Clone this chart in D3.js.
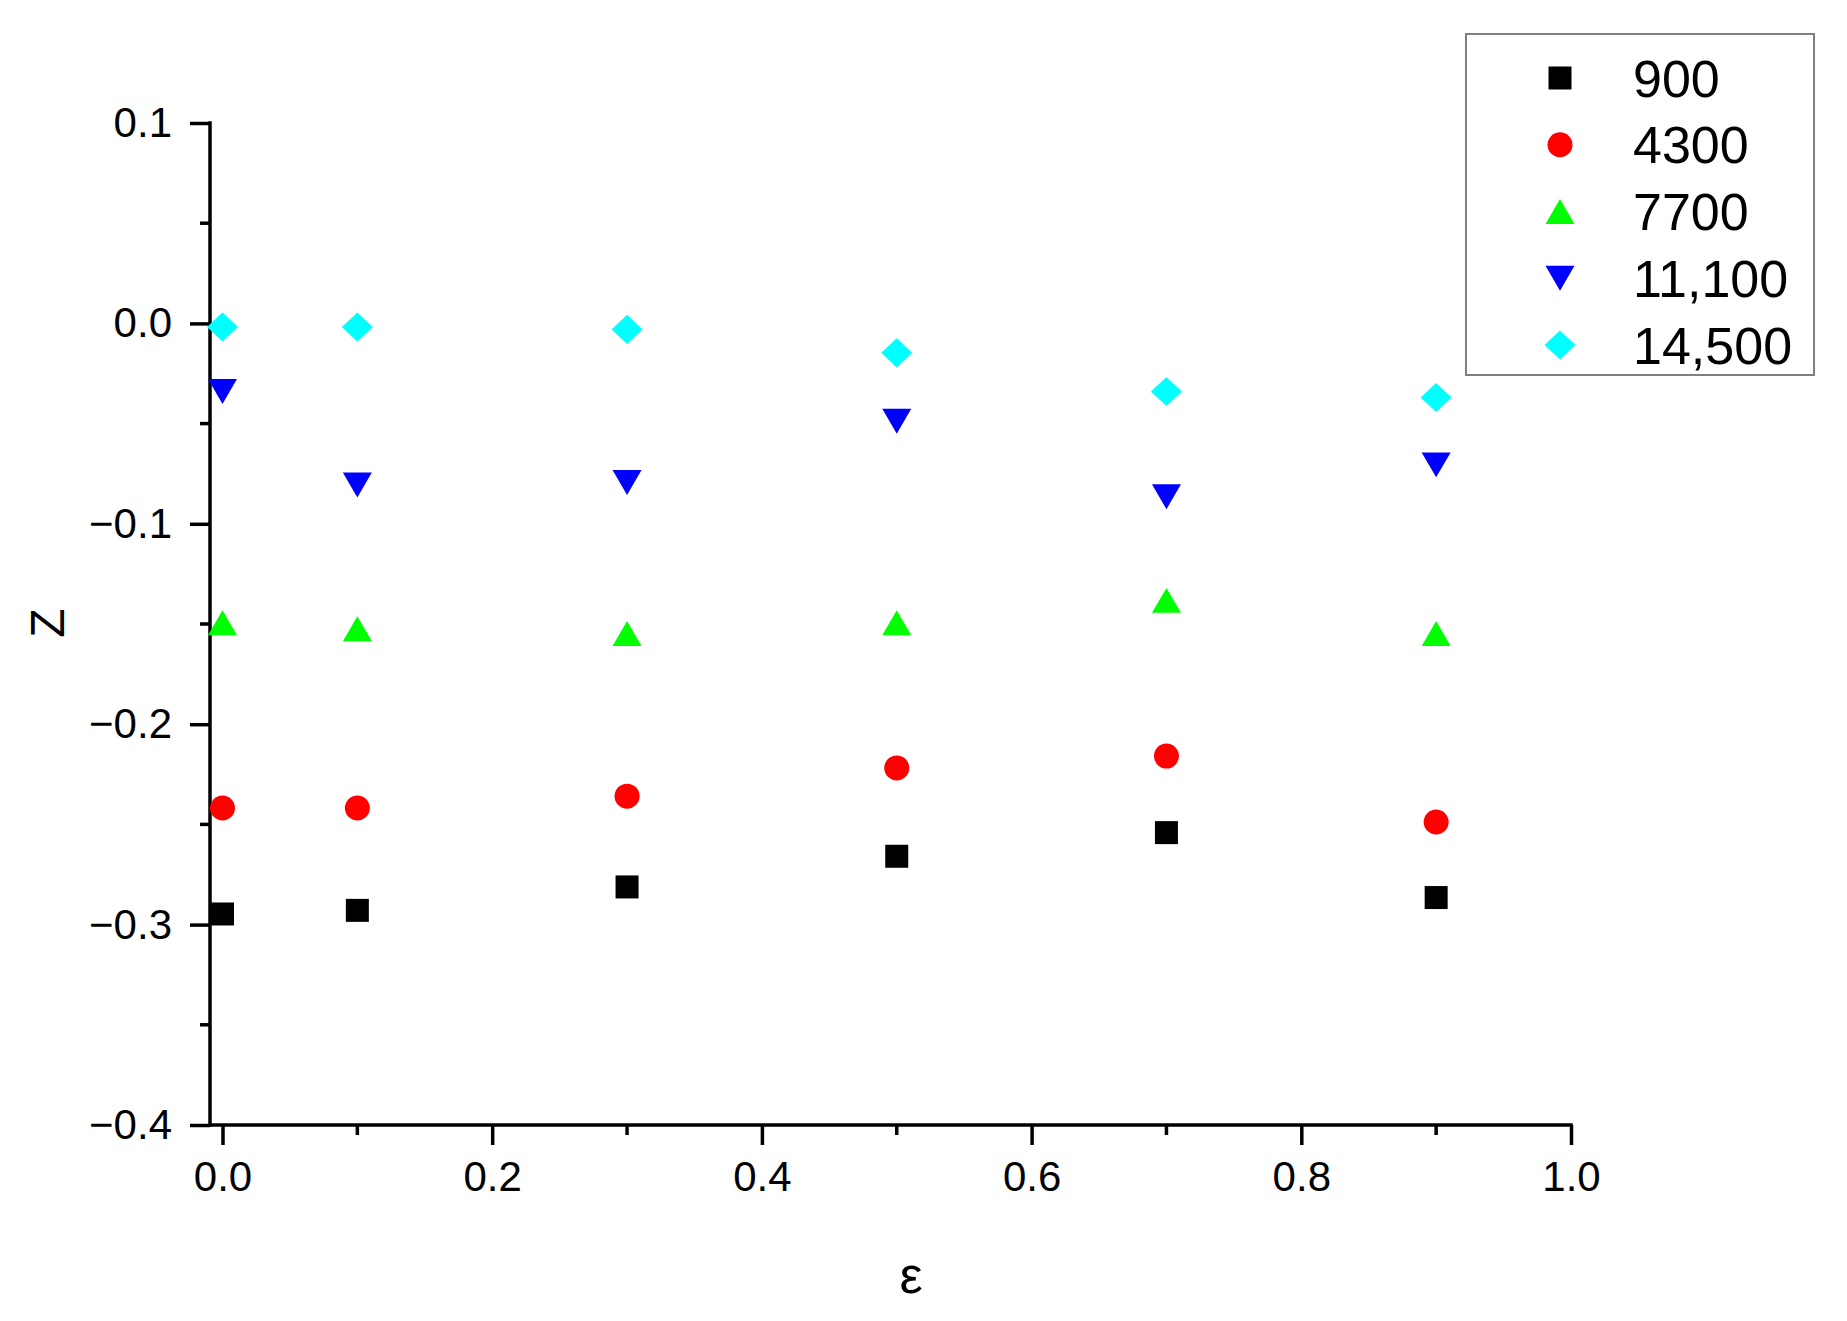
<!DOCTYPE html>
<html>
<head>
<meta charset="utf-8">
<title>Z vs epsilon</title>
<script src="https://cdn.jsdelivr.net/npm/d3@7"></script>
<style>
  body { margin: 0; background: #fff; }
  text { font-family: "Liberation Sans", Arial, sans-serif; fill: #000; }
</style>
</head>
<body>
<div id="chart"></div>
<script>
// data
var epsilon = [0.0, 0.1, 0.3, 0.5, 0.7, 0.9];
var seriesNames = ["900", "4300", "7700", "11,100", "14,500"];
var z900   = [-0.2947, -0.2929, -0.2812, -0.2659, -0.2541, -0.2865];
var z4300  = [-0.2418, -0.2418, -0.2359, -0.2218, -0.2159, -0.2488];
var z7700  = [-0.1494, -0.1524, -0.1547, -0.1494, -0.1382, -0.1547];
var z11100 = [-0.0340, -0.0806, -0.0794, -0.0488, -0.0865, -0.0706];
var z14500 = [-0.0018, -0.0018, -0.0030, -0.0147, -0.0340, -0.0370];
var xTicks = [0.0, 0.2, 0.4, 0.6, 0.8, 1.0];
var yTicks = [-0.4, -0.3, -0.2, -0.1, 0.0, 0.1];

var W = 1847, H = 1321;
var svg = d3.select("#chart").append("svg")
    .attr("width", W).attr("height", H);

var x = d3.scaleLinear().domain([0, 1]).range([222.5, 1571]);
var y = d3.scaleLinear().domain([-0.4, 0.1]).range([1125, 123]);
var axisX0 = 210; // where the y axis sits

// custom marker shapes (size = bounding box width squared)
var triUp = { draw: function (c, s) { var w = Math.sqrt(s), h = w * 0.86;
    c.moveTo(0, -h / 2); c.lineTo(w / 2, h / 2); c.lineTo(-w / 2, h / 2); c.closePath(); } };
var triDown = { draw: function (c, s) { var w = Math.sqrt(s), h = w * 0.86;
    c.moveTo(0, h / 2); c.lineTo(w / 2, -h / 2); c.lineTo(-w / 2, -h / 2); c.closePath(); } };
var diamond = { draw: function (c, s) { var w = Math.sqrt(s), h = w * 0.94;
    c.moveTo(0, -h / 2); c.lineTo(w / 2, 0); c.lineTo(0, h / 2); c.lineTo(-w / 2, 0); c.closePath(); } };

var series = [
    { name: seriesNames[0], values: z900,   color: "#000000", type: d3.symbolSquare, size: 23 * 23 },
    { name: seriesNames[1], values: z4300,  color: "#ff0000", type: d3.symbolCircle, size: Math.PI * 12.5 * 12.5 },
    { name: seriesNames[2], values: z7700,  color: "#00ff00", type: triUp,           size: 29 * 29 },
    { name: seriesNames[3], values: z11100, color: "#0000ff", type: triDown,         size: 29 * 29 },
    { name: seriesNames[4], values: z14500, color: "#00ffff", type: diamond,         size: 31 * 31 }
];

//--------------
// axes
//--------------
var lineW = 3.5;

// y axis
var yAxis = d3.axisLeft(y).tickValues(yTicks).tickSize(20).tickPadding(18)
    .tickFormat(function (d) { return d3.format(".1f")(d).replace("-", "\u2212"); });
var gy = svg.append("g").attr("transform", "translate(" + axisX0 + ",0)").call(yAxis);
gy.select(".domain").remove();
gy.selectAll(".tick line").attr("stroke", "#000").attr("stroke-width", lineW);
gy.selectAll(".tick text").style("font-size", "42px").attr("fill", "#000");
// minor y ticks
gy.selectAll(".minor").data(d3.range(-0.35, 0.1, 0.1)).enter().append("line")
    .attr("x1", -10).attr("x2", 0)
    .attr("y1", function (d) { return y(d); }).attr("y2", function (d) { return y(d); })
    .attr("stroke", "#000").attr("stroke-width", lineW);

// x axis
var xAxis = d3.axisBottom(x).tickValues(xTicks).tickSize(20).tickPadding(16)
    .tickFormat(d3.format(".1f"));
var gx = svg.append("g").attr("transform", "translate(0," + y(-0.4) + ")").call(xAxis);
gx.select(".domain").remove();
gx.selectAll(".tick line").attr("stroke", "#000").attr("stroke-width", lineW);
gx.selectAll(".tick text").style("font-size", "42px").attr("fill", "#000");
gx.selectAll(".minor").data([0.1, 0.3, 0.5, 0.7, 0.9]).enter().append("line")
    .attr("x1", function (d) { return x(d); }).attr("x2", function (d) { return x(d); })
    .attr("y1", 0).attr("y2", 10)
    .attr("stroke", "#000").attr("stroke-width", lineW);

// axis lines
svg.append("line")
    .attr("x1", axisX0).attr("x2", axisX0)
    .attr("y1", y(0.1) - lineW / 2).attr("y2", y(-0.4) + lineW / 2)
    .attr("stroke", "#000").attr("stroke-width", lineW);
svg.append("line")
    .attr("x1", axisX0).attr("x2", x(1) + lineW / 2)
    .attr("y1", y(-0.4)).attr("y2", y(-0.4))
    .attr("stroke", "#000").attr("stroke-width", lineW);

// axis titles
svg.append("text")
    .attr("transform", "translate(64,623) rotate(-90)")
    .attr("text-anchor", "middle")
    .style("font-size", "48px")
    .text("Z");
svg.append("text")
    .attr("x", 911).attr("y", 1293)
    .attr("text-anchor", "middle")
    .style("font-size", "52px")
    .text("\u03b5");

//--------------
// points
//--------------
series.forEach(function (s) {
    var sym = d3.symbol().type(s.type).size(s.size);
    svg.append("g").selectAll("path")
        .data(s.values)
        .enter().append("path")
        .attr("d", sym)
        .attr("fill", s.color)
        .attr("transform", function (d, i) {
            return "translate(" + x(epsilon[i]) + "," + y(d) + ")";
        });
});

//--------------
// legend
//--------------
var legend = svg.append("g");
legend.append("rect")
    .attr("x", 1466).attr("y", 34)
    .attr("width", 348).attr("height", 341)
    .attr("fill", "#fff").attr("stroke", "#808080").attr("stroke-width", 2);

var rowY = d3.scalePoint().domain(seriesNames).range([78, 345]);
var rows = legend.selectAll(".row").data(series).enter().append("g")
    .attr("transform", function (d) { return "translate(0," + rowY(d.name) + ")"; });
rows.append("path")
    .attr("d", function (d) { return d3.symbol().type(d.type).size(d.size)(); })
    .attr("fill", function (d) { return d.color; })
    .attr("transform", "translate(1560,0)");
rows.append("text")
    .attr("x", 1633).attr("y", 18.5)
    .style("font-size", "52px")
    .text(function (d) { return d.name; });
</script>
</body>
</html>
